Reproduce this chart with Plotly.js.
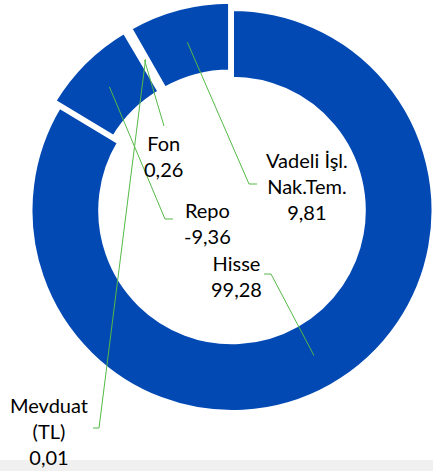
<!DOCTYPE html>
<html><head><meta charset="utf-8">
<script src="https://cdn.plot.ly/plotly-3.0.1.min.js"></script>
<style>html,body{margin:0;padding:0;overflow:hidden;background:#fff;}#chart{width:450px;height:471px;}</style>
</head><body><div id="chart"></div>
<script>
// ---- data ----
const categories = ["Hisse", "Repo", "Fon", "Mevduat (TL)", "Vadeli İşl. Nak.Tem."];
const values = [99.28, -9.36, 0.26, 0.01, 9.81];
const labelLines = ["Hisse", "Repo", "Fon", "Mevduat<br>(TL)", "Vadeli İşl.<br>Nak.Tem."];

// ---- layout / style ----
const W = 450, H = 471;
const CX = 232, CY = 210.5, R = 201.5, PULL_PX = 7.5, HOLE = 0.654;
const p = PULL_PX / R;
const half = R * (1 + p);
const pulls = [0, p, p, p, p];
const BLUE = '#0349B4', GREEN = '#55B947';
// text centre, stub start x, elbow x, stub y (pixels)
const labelPos = [
  {tx: 236, ty: 276, sx: 264, ex: 271, sy: 274},
  {tx: 207, ty: 222.5, sx: 173, ex: 165, sy: 219},
  {tx: 163, ty: 155.5, sx: 164, ex: 164, sy: 126},
  {tx: 48.5, ty: 431, sx: 93, ex: 99, sy: 428},
  {tx: 307, ty: 186, sx: 257, ex: 249, sy: 184}
];

const absVals = values.map(v => Math.abs(v));
const total = absVals.reduce((a, b) => a + b, 0);
const fmt = v => v.toFixed(2).replace('.', ',');
const px = x => x / W, py = y => 1 - y / H;

const annotations = [], shapes = [];
let start = 0;
const rMid = R * (1 + HOLE) / 2;
absVals.forEach((v, i) => {
  const a0 = start, a1 = start + v / total * 360;
  start = a1;
  const mid = (a0 + a1) / 2 * Math.PI / 180;
  const dx = Math.sin(mid), dy = -Math.cos(mid);
  const cx = CX + pulls[i] * R * dx, cy = CY + pulls[i] * R * dy;
  const ax = cx + rMid * dx, ay = cy + rMid * dy;
  const L = labelPos[i];
  annotations.push({
    x: px(L.tx), y: py(L.ty), xref: 'paper', yref: 'paper',
    xanchor: 'center', yanchor: 'middle', align: 'center', showarrow: false,
    text: labelLines[i] + '<br>' + fmt(values[i]),
    font: {family: 'Lato, sans-serif', size: 20, color: '#000'}
  });
  shapes.push({
    type: 'path', xref: 'paper', yref: 'paper',
    path: `M ${px(L.sx)} ${py(L.sy)} L ${px(L.ex)} ${py(L.sy)} L ${px(ax)} ${py(ay)}`,
    line: {color: GREEN, width: 1}
  });
});
shapes.push({type: 'rect', xref: 'paper', yref: 'paper', x0: 0, x1: 1, y0: 0, y1: 11 / H,
  fillcolor: '#F0F0F0', line: {width: 0}, layer: 'below'});

const trace = {
  type: 'pie', labels: categories, values: absVals, sort: false,
  direction: 'clockwise', rotation: 0, hole: HOLE, pull: pulls,
  textinfo: 'none', hoverinfo: 'skip',
  marker: {colors: categories.map(() => BLUE), line: {color: '#FFFFFF', width: 4}},
  domain: {x: [(CX - half) / W, (CX + half) / W], y: [1 - (CY + half) / H, 1 - (CY - half) / H]}
};

Plotly.newPlot('chart', [trace], {
  width: W, height: H, margin: {l: 0, r: 0, t: 0, b: 0},
  paper_bgcolor: '#FFFFFF', showlegend: false, hovermode: false,
  annotations: annotations, shapes: shapes
}, {displayModeBar: false, staticPlot: true});
</script>
</body></html>
